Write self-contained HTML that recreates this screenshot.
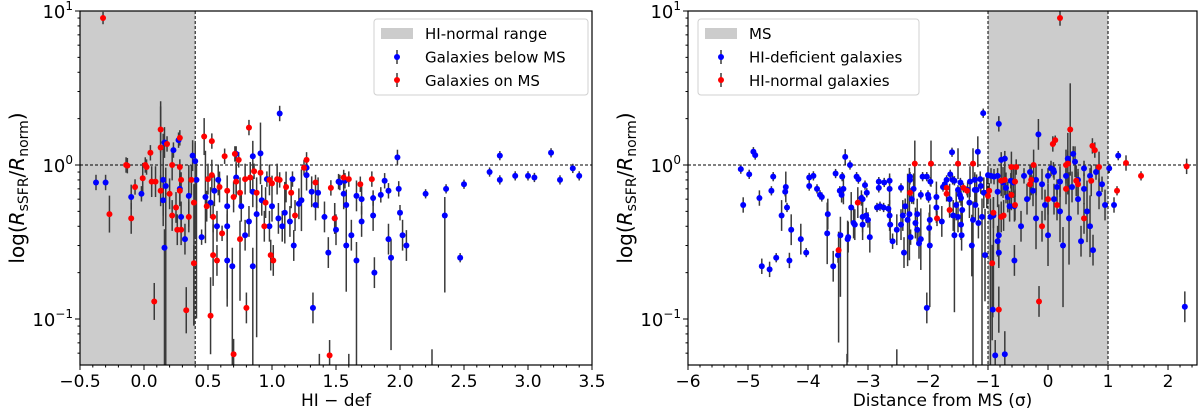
<!DOCTYPE html>
<html><head><meta charset="utf-8"><style>
html,body{margin:0;background:#fff;overflow:hidden;width:1200px;height:417px}
svg{display:block;font-family:"DejaVu Sans","Liberation Sans",sans-serif}
</style></head><body>
<svg id="chart" width="1200" height="417" viewBox="0 0 1200 417" xmlns="http://www.w3.org/2000/svg">
<defs>
<clipPath id="clipL"><rect x="80" y="11" width="512" height="354"/></clipPath>
<clipPath id="clipR"><rect x="688" y="11" width="510" height="354"/></clipPath>
</defs>
<g id="left"></g>
<g id="right"></g>
</svg>
<script>
// ---- data (x, y, err in dex) ----
const leftBlue = [[-0.375,0.77,0.05],[-0.30,0.77,0.05],[-0.10,0.62,0.08],[-0.02,0.65,0.05],[0.16,1.40,0.1],[0.23,1.25,0.05],[0.27,1.45,0.05],[0.15,0.80,0.3],[0.17,0.73,1.3],[0.15,0.59,0.1],[0.28,0.70,0.1],[0.35,0.63,0.2],[0.29,0.46,0.1],[0.32,0.33,0.1],[0.16,0.29,0.9],[0.38,1.15,0.1],[0.40,1.06,0.5],[0.41,0.80,0.9],[0.45,0.34,0.05],[0.48,0.62,0.3],[0.52,0.57,0.1],[0.55,0.68,0.1],[0.57,0.40,0.1],[0.58,0.80,0.1],[0.65,0.54,0.6],[0.65,0.40,0.1],[0.72,0.83,0.1],[0.72,1.18,0.05],[0.76,0.54,0.1],[0.79,0.35,0.1],[0.82,0.43,0.1],[0.85,1.14,0.1],[0.85,0.67,0.1],[0.88,0.48,0.8],[0.91,1.19,0.2],[0.92,0.59,0.1],[0.96,0.81,0.05],[0.98,0.40,0.1],[1.00,0.54,0.1],[1.05,0.45,0.1],[1.06,2.16,0.05],[1.08,0.40,0.1],[1.10,0.49,0.2],[1.14,0.43,0.1],[1.16,0.81,0.05],[1.17,0.30,0.1],[1.21,0.56,0.1],[1.23,0.59,0.2],[1.27,0.86,0.1],[1.27,0.96,0.05],[1.31,0.67,0.1],[1.34,0.55,0.1],[1.36,0.66,0.1],[1.41,0.46,0.1],[1.44,0.27,0.1],[1.49,0.45,0.1],[1.50,0.38,0.1],[1.53,0.77,0.05],[1.56,0.65,0.1],[1.58,0.55,0.1],[1.58,0.30,0.3],[1.62,0.35,0.1],[1.66,0.63,0.1],[1.70,0.43,0.1],[1.70,0.60,0.1],[1.79,0.47,0.1],[1.79,0.61,0.05],[1.85,0.64,0.05],[1.88,0.79,0.05],[1.91,0.68,0.05],[1.91,0.33,0.1],[1.93,0.25,0.6],[1.99,0.70,0.05],[2.00,0.49,0.05],[1.98,1.12,0.05],[2.02,0.35,0.1],[1.66,0.24,1.0],[1.52,0.78,0.05],[1.57,0.79,0.05],[0.85,0.22,0.8],[0.69,0.22,0.9],[0.65,0.24,0.3],[3.18,1.20,0.03],[3.35,0.95,0.03],[2.78,1.15,0.03],[3.00,0.85,0.03],[2.70,0.90,0.03],[2.50,0.75,0.03],[2.36,0.70,0.03],[2.20,0.65,0.03],[2.78,0.80,0.03],[2.90,0.85,0.03],[3.05,0.83,0.03],[3.25,0.80,0.03],[3.40,0.85,0.03],[2.47,0.25,0.03],[2.35,0.47,0.5],[2.05,0.30,0.1],[1.80,0.20,0.1],[1.32,0.118,0.1],[1.37,0.045,1.2],[1.60,0.045,1.2],[2.25,0.045,0.15]];
const leftRed = [[-0.14,1.0,0.05],[-0.13,0.99,0.05],[-0.27,0.48,0.12],[-0.10,0.45,0.1],[-0.07,0.72,0.05],[-0.01,0.82,0.1],[0.01,1.0,0.05],[0.02,0.97,0.05],[0.05,1.2,0.05],[0.06,0.78,0.1],[0.09,0.78,0.1],[0.13,1.7,0.15],[0.13,1.3,0.3],[0.13,0.68,0.1],[0.18,1.37,0.05],[0.22,1.0,0.1],[0.20,0.65,0.1],[0.22,0.47,0.1],[0.25,0.53,0.1],[0.28,1.5,0.05],[0.28,0.97,0.05],[0.29,0.80,0.05],[0.28,0.68,0.1],[0.26,0.38,0.1],[0.29,0.38,0.1],[0.35,0.46,0.1],[0.37,0.80,0.1],[0.39,0.57,0.8],[0.39,0.23,0.4],[0.47,1.53,0.12],[0.53,1.43,0.05],[0.50,0.81,0.1],[0.53,0.86,0.1],[0.49,0.54,0.1],[0.54,0.46,0.1],[0.54,0.26,0.2],[0.57,0.24,0.1],[0.59,0.72,0.1],[0.61,0.36,0.05],[0.63,1.14,0.05],[0.65,0.68,0.1],[0.71,1.18,0.05],[0.74,1.08,0.05],[0.70,0.62,0.1],[0.72,0.78,0.1],[0.75,0.66,0.1],[0.75,0.33,0.4],[0.79,0.81,0.1],[0.82,1.75,0.05],[0.83,0.83,0.1],[0.86,0.91,0.05],[0.88,0.66,0.1],[0.91,0.89,0.05],[0.95,0.57,0.1],[0.94,0.40,0.1],[0.98,0.80,0.1],[1.00,0.76,0.05],[1.04,0.81,0.1],[1.06,0.80,0.05],[1.11,0.72,0.1],[1.15,0.66,0.1],[1.18,0.47,0.1],[0.99,0.26,0.1],[1.01,0.24,0.1],[1.27,1.08,0.05],[1.34,0.77,0.05],[1.46,0.71,0.05],[1.49,0.45,0.1],[1.56,0.83,0.05],[1.60,0.81,0.05],[1.69,0.75,0.05],[1.78,0.81,0.05],[1.25,0.96,0.05],[-0.32,9.0,0.04],[0.08,0.13,0.12],[0.33,0.114,0.15],[0.52,0.105,0.25],[0.70,0.059,0.1],[0.80,0.118,0.1],[1.45,0.058,0.1]];
const rightBlue = [[-5.12,0.94,0.03],[-4.98,0.87,0.03],[-4.91,1.22,0.03],[-4.88,1.16,0.03],[-5.08,0.55,0.05],[-4.81,0.61,0.05],[-4.77,0.22,0.05],[-4.64,0.21,0.05],[-4.53,0.25,0.03],[-4.58,0.84,0.03],[-4.61,0.68,0.03],[-4.37,0.72,0.1],[-4.38,0.67,0.03],[-4.35,0.53,0.03],[-4.44,0.47,0.1],[-4.28,0.38,0.1],[-4.31,0.24,0.05],[-4.12,0.33,0.1],[-4.03,0.27,0.03],[-3.98,0.83,0.03],[-3.91,0.85,0.03],[-3.98,0.73,0.03],[-3.85,0.70,0.03],[-3.80,0.64,0.03],[-3.77,0.62,0.03],[-3.68,0.36,0.2],[-3.67,0.48,0.1],[-3.54,0.88,0.03],[-3.43,0.84,0.03],[-3.47,0.68,0.03],[-3.44,0.64,0.05],[-3.41,0.70,0.1],[-3.46,0.35,0.4],[-3.50,0.26,0.05],[-3.58,0.22,0.1],[-3.38,1.13,0.05],[-3.30,1.0,0.03],[-3.28,0.53,0.1],[-3.24,0.42,0.1],[-3.22,0.41,0.1],[-3.34,0.33,0.8],[-3.33,0.34,0.1],[-3.19,0.84,0.03],[-3.16,0.81,0.03],[-3.11,0.61,0.05],[-3.09,0.60,0.03],[-3.09,0.46,0.1],[-3.09,0.41,0.1],[-3.03,0.47,0.05],[-3.02,0.66,0.03],[-3.00,0.44,0.05],[-2.97,0.34,0.1],[-3.05,0.74,0.03],[-2.85,0.53,0.03],[-2.82,0.71,0.03],[-2.82,0.78,0.03],[-2.80,0.54,0.03],[-2.73,0.77,0.03],[-2.74,0.53,0.03],[-2.66,0.52,0.03],[-2.64,0.79,0.03],[-2.64,0.70,0.1],[-2.64,0.47,0.1],[-2.63,0.41,0.1],[-2.59,0.32,0.05],[-2.52,0.38,0.1],[-2.45,0.71,0.03],[-2.45,0.41,0.1],[-2.42,0.47,0.1],[-2.38,0.54,0.05],[-2.40,0.27,0.1],[-2.34,0.44,0.3],[-2.30,0.84,0.03],[-2.30,0.80,0.03],[-2.31,0.48,0.3],[-2.29,0.34,0.05],[-2.27,0.60,0.03],[-2.24,0.70,0.1],[-2.21,0.42,0.1],[-2.18,0.48,0.1],[-2.18,0.38,0.1],[-2.15,0.31,0.1],[-2.12,0.33,0.2],[-2.12,0.64,0.03],[-2.09,0.84,0.03],[-2.02,0.84,0.03],[-2.00,0.64,0.03],[-1.99,0.61,0.03],[-1.98,0.39,0.1],[-1.97,0.44,0.1],[-1.97,0.30,0.4],[-1.96,0.78,0.03],[-1.86,0.62,0.1],[-1.86,0.53,0.1],[-1.77,0.43,0.1],[-1.75,0.72,0.03],[-1.72,0.75,0.03],[-1.69,0.80,0.03],[-1.64,0.60,0.1],[-1.63,0.87,0.03],[-1.60,1.21,0.03],[-1.59,0.80,0.03],[-1.58,0.47,0.1],[-1.56,0.79,0.03],[-1.56,0.35,0.5],[-1.53,0.55,0.1],[-1.50,0.46,0.1],[-1.50,0.69,0.03],[-1.47,0.64,0.05],[-1.46,0.77,0.03],[-1.45,0.41,0.1],[-1.44,0.35,0.1],[-1.43,0.51,0.1],[-1.45,0.61,0.05],[-1.34,0.69,0.05],[-1.31,0.57,0.1],[-1.30,0.78,0.1],[-1.27,0.30,0.2],[-1.25,0.44,1.2],[-1.22,0.80,0.05],[-1.22,0.69,0.1],[-1.21,0.55,0.1],[-1.17,1.22,0.1],[-1.19,0.69,0.1],[-1.16,0.42,0.1],[-1.13,0.81,0.05],[-1.12,0.73,0.05],[-1.10,0.46,1.2],[-1.08,2.17,0.03],[-1.07,0.66,0.1],[-1.05,0.26,0.3],[-1.0,0.86,0.05],[-0.95,0.85,0.05],[-0.9,0.84,0.05],[-0.84,0.85,0.05],[-0.82,1.85,0.05],[-0.78,1.08,0.05],[-0.75,0.77,0.1],[-0.70,0.71,0.1],[-0.64,0.54,0.1],[-0.56,0.54,0.1],[-0.58,0.77,0.1],[-0.84,0.67,0.1],[-0.91,0.47,0.6],[-0.82,0.35,0.2],[-0.82,0.27,0.1],[-0.84,0.32,0.1],[-0.96,0.46,1.0],[-1.02,0.66,0.1],[-0.56,0.24,0.1],[-0.62,0.79,0.05],[-0.67,0.62,0.1],[-0.16,1.58,0.1],[0.42,1.18,0.05],[0.33,1.10,0.05],[-0.72,1.10,0.05],[1.02,0.95,0.03],[1.17,1.15,0.03],[0.09,0.93,0.05],[-0.4,0.85,0.05],[-0.3,0.90,0.05],[-0.2,0.80,0.1],[-0.1,0.75,0.1],[0.0,0.85,0.05],[0.1,0.90,0.05],[0.2,0.78,0.1],[0.3,0.85,0.05],[0.4,0.72,0.1],[0.5,0.80,0.05],[0.6,0.70,0.1],[0.7,0.85,0.05],[0.8,0.90,0.05],[0.9,0.75,0.05],[0.95,0.55,0.1],[0.85,0.65,0.1],[0.65,0.50,0.2],[0.5,0.60,0.1],[0.35,0.45,0.3],[0.2,0.50,0.2],[0.1,0.60,0.1],[-0.05,0.55,0.1],[-0.2,0.45,0.2],[-0.35,0.60,0.1],[0.0,0.35,0.2],[0.25,0.30,0.4],[0.7,0.40,0.2],[0.75,0.28,0.1],[0.55,0.32,0.1],[-0.45,0.40,0.1],[0.45,1.05,0.1],[0.15,0.72,0.05],[-0.25,0.68,0.1],[0.6,0.95,0.05],[0.05,0.95,0.05],[1.1,0.55,0.05],[2.28,0.12,0.1],[-2.02,0.118,0.1],[-0.92,0.115,0.05],[-0.88,0.058,0.1],[-0.72,0.059,0.15],[-3.35,0.045,1.0],[-2.52,0.045,0.15]];
const rightRed = [[-1.95,1.02,0.15],[-1.25,1.02,0.1],[-3.17,0.57,0.1],[-3.49,0.28,0.6],[-2.30,0.66,0.03],[-1.85,0.45,0.05],[-1.69,0.71,0.05],[-1.69,0.65,0.05],[-1.64,0.51,0.05],[-1.41,0.71,0.03],[-1.35,0.68,0.03],[-1.0,0.63,0.05],[-0.98,0.68,0.05],[-0.93,0.23,0.5],[-0.91,0.49,0.1],[-0.78,0.79,0.1],[-0.78,0.46,0.1],[-0.74,0.47,0.1],[-0.61,0.64,0.1],[-0.61,0.97,0.1],[-0.55,0.78,0.1],[-0.55,0.55,0.1],[0.2,9.0,0.05],[-0.82,0.115,0.15],[-0.15,0.13,0.1],[2.31,0.98,0.05],[1.3,1.03,0.05],[1.55,0.85,0.03],[1.15,0.68,0.03],[0.37,1.7,0.3],[0.08,1.37,0.05],[0.12,1.45,0.03],[0.74,1.33,0.05],[0.78,1.25,0.05],[0.33,1.02,0.2],[0.30,1.0,0.1],[0.85,0.97,0.1],[-0.24,1.0,0.1],[-0.53,0.97,0.05],[0.72,0.79,0.1],[0.47,0.79,0.1],[-0.72,0.80,0.1],[-0.28,0.80,0.1],[-2.22,1.02,0.15],[-1.5,1.02,0.1],[0.3,0.70,0.1],[0.0,0.60,0.1],[0.5,0.75,0.1],[-0.3,0.75,0.1],[0.15,0.55,0.1],[0.6,0.45,0.1],[-0.1,0.40,0.1]];
const yTickExp = ["1","0","\u22121"];
const leftXTicks = [-0.5,0.0,0.5,1.0,1.5,2.0,2.5,3.0,3.5];
const leftXLabels = ["\u22120.5","0.0","0.5","1.0","1.5","2.0","2.5","3.0","3.5"];
const rightXTicks = [-6,-5,-4,-3,-2,-1,0,1,2];
const rightXLabels = ["\u22126","\u22125","\u22124","\u22123","\u22122","\u22121","0","1","2"];

const NS="http://www.w3.org/2000/svg";
const yTop=11,yBot=365;
const yScale = v => 165 - Math.log10(v)*154;
function mk(p,tag,at){const e=document.createElementNS(NS,tag);for(const k in at)e.setAttribute(k,at[k]);p.appendChild(e);return e;}

function panel(g,opt){
  const {x0,x1,xmin,xmax,shade,dash,clip,ticks,labels,minorStep,blue,red,xlabel}=opt;
  const xs = v => x0 + (v-xmin)/(xmax-xmin)*(x1-x0);
  let e=mk(g,'rect',{x:xs(shade[0]),y:yTop,width:xs(shade[1])-xs(shade[0]),height:yBot-yTop,fill:'#cccccc'});
  
  
  dash.forEach(d=>{e=mk(g,'line',{x1:xs(d),x2:xs(d),y1:yTop,y2:yBot,stroke:'#000','stroke-width':1,'stroke-dasharray':'3,2'});
    
    });
  e=mk(g,'line',{x1:x0,x2:x1,y1:yScale(1),y2:yScale(1),stroke:'#000','stroke-width':1,'stroke-dasharray':'3,2'});
  
  
  const cg=mk(g,'g',{'clip-path':`url(#${clip})`});
  
  
  [blue,red].forEach(s=>s.forEach(p=>{const l=Math.log10(p[1]);
    const up = p[2]>0.3 ? 0.12 : p[2];
    e=mk(cg,'line',{x1:xs(p[0]),x2:xs(p[0]),y1:165-(l+up)*154,y2:165-(l-p[2])*154,stroke:'#3a3a3a','stroke-width':1.5});
    
    }));
  [[blue,'#0000ff','blue-point'],[red,'#ff0000','red-point']].forEach(([s,c,n])=>s.forEach(p=>{
    e=mk(cg,'circle',{cx:xs(p[0]),cy:yScale(p[1]),r:3,fill:c});
    
    }));
  e=mk(g,'rect',{x:x0,y:yTop,width:x1-x0,height:yBot-yTop,fill:'none',stroke:'#000','stroke-width':1.2});
  
  
  ticks.forEach((t,i)=>{const X=xs(t);mk(g,'line',{x1:X,x2:X,y1:yBot,y2:yBot+5,stroke:'#000'});
    e=mk(g,'text',{x:X,y:yBot+22,'text-anchor':'middle','font-size':17});e.textContent=labels[i];
    
    });
  for(let v=xmin;v<=xmax+1e-9;v+=minorStep){const X=xs(v);mk(g,'line',{x1:X,x2:X,y1:yBot,y2:yBot+2.5,stroke:'#000'});}
  [1,0,-1].forEach((d,i)=>{const Y=165-d*154;mk(g,'line',{x1:x0-5,x2:x0,y1:Y,y2:Y,stroke:'#000'});
    e=mk(g,'text',{x:x0-7,y:Y+7,'text-anchor':'end','font-size':18});
    
    
    const a=mk(e,'tspan',{});a.textContent='10';const b=mk(e,'tspan',{dy:-8,'font-size':12});b.textContent=yTickExp[i];});
  [-2,-1,0].forEach(d=>{for(let m=2;m<=9;m++){const Y=165-(d+Math.log10(m))*154;if(Y<yBot&&Y>yTop)mk(g,'line',{x1:x0-2.5,x2:x0,y1:Y,y2:Y,stroke:'#000'});}});
  e=mk(g,'text',{x:(x0+x1)/2,y:406,'text-anchor':'middle','font-size':17});e.textContent=xlabel;
  
  
  const yl=mk(g,'text',{x:0,y:0,'text-anchor':'middle','font-size':20,transform:`translate(${x0-56},188) rotate(-90)`});
  
  
  const parts=[['log(',{}],['R',{'font-style':'italic'}],['sSFR',{'font-size':14,dy:4}],['/',{dy:-4}],['R',{'font-style':'italic'}],['norm',{'font-size':14,dy:4}],[')',{dy:-4}]];
  parts.forEach(([t,at])=>{const ts=mk(yl,'tspan',at);ts.textContent=t;});
}
function legend(g,x,w,items){
  let e=mk(g,'rect',{x:x,y:19,width:w,height:76,rx:3,fill:'#fff',stroke:'#d0d0d0','fill-opacity':0.85});
  
  
  mk(g,'rect',{x:x+7,y:28,width:32,height:11,fill:'#cccccc'});
  mk(g,'line',{x1:x+23,x2:x+23,y1:50,y2:64,stroke:'#3a3a3a','stroke-width':1.5});
  mk(g,'circle',{cx:x+23,cy:57,r:3,fill:'#0000ff'});
  mk(g,'line',{x1:x+23,x2:x+23,y1:73,y2:87,stroke:'#3a3a3a','stroke-width':1.5});
  mk(g,'circle',{cx:x+23,cy:80,r:3,fill:'#ff0000'});
  items.forEach((t,i)=>{e=mk(g,'text',{x:x+51,y:39+i*23.5,'font-size':15});e.textContent=t;
    
    });
}
const L=document.getElementById('left'),R=document.getElementById('right');
panel(L,{x0:80,x1:592,xmin:-0.5,xmax:3.5,shade:[-0.5,0.4],dash:[0.4],clip:'clipL',ticks:leftXTicks,labels:leftXLabels,minorStep:0.1,blue:leftBlue,red:leftRed,xlabel:'HI \u2212 def'});
panel(R,{x0:688,x1:1197,xmin:-6,xmax:2.483,shade:[-1,1],dash:[-1,1],clip:'clipR',ticks:rightXTicks,labels:rightXLabels,minorStep:0.2,blue:rightBlue,red:rightRed,xlabel:'Distance from MS (\u03c3)'});
legend(L,374,214,['HI-normal range','Galaxies below MS','Galaxies on MS']);
legend(R,698,221,['MS','HI-deficient galaxies','HI-normal galaxies']);
</script>
</body></html>
